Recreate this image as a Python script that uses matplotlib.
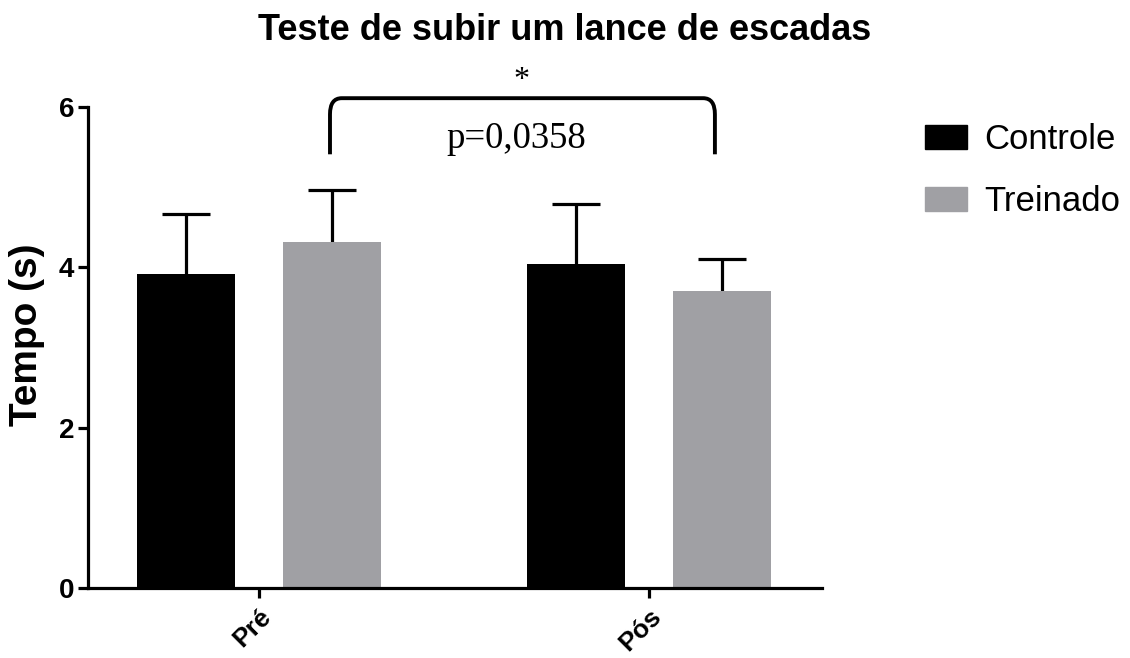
import matplotlib
matplotlib.use("Agg")
import matplotlib.pyplot as plt
import numpy as np
from matplotlib.path import Path
from matplotlib.patches import PathPatch, Patch

# ---- data ----
categories = ["Pré", "Pós"]
series_names = ["Controle", "Treinado"]
controle_mean = [3.92, 4.04]
controle_sd = [0.74, 0.75]
treinado_mean = [4.32, 3.70]
treinado_sd = [0.64, 0.40]
y_ticks = [0, 2, 4, 6]
title = "Teste de subir um lance de escadas"
ylabel = "Tempo (s)"
p_text = "p=0,0358"
star_text = "*"

# ---- style ----
plt.rcParams['font.family'] = ['Liberation Sans', 'DejaVu Sans']
black = "#000000"
gray = "#a0a0a4"

fig = plt.figure(figsize=(11.30, 6.58), dpi=100)
ax = fig.add_axes([88/1130, 1-588/658, (822-88)/1130, (588-107)/658])

x = np.arange(len(categories))
w = 0.25
off = 0.1875
lw = 2.3

ax.bar(x - off, controle_mean, width=w, color=black, zorder=2)
ax.bar(x + off, treinado_mean, width=w, color=gray, zorder=2)
for xs, m, sd in [(x - off, controle_mean, controle_sd), (x + off, treinado_mean, treinado_sd)]:
    eb = ax.errorbar(xs, m, yerr=[np.zeros(len(m)), sd], fmt='none',
                     ecolor=black, elinewidth=lw, capsize=17, capthick=lw, zorder=1)
    eb[1][0].set_visible(False)  # hide lower caps

ax.set_xlim(-0.4385, 1.4436)
ax.set_ylim(0, 6)
ax.set_yticks(y_ticks)
ax.set_yticklabels([str(t) for t in y_ticks], fontsize=20, fontweight='bold')
ax.set_xticks(x)
ax.set_xticklabels(categories, rotation=45, ha='right', rotation_mode='anchor',
                   fontsize=19, fontweight='bold')
for s in ['top', 'right']:
    ax.spines[s].set_visible(False)
for s in ['left', 'bottom']:
    ax.spines[s].set_linewidth(lw)
ax.tick_params(axis='both', width=lw, length=7, direction='out', pad=3)
ax.tick_params(axis='x', pad=5)
ax.set_ylabel(ylabel, fontsize=28, fontweight='bold')
ax.yaxis.set_label_coords(-43/734, (588-335)/481)

fig.text(565/1130, 1-30/658, title, ha='center', va='center',
         fontsize=26, fontweight='bold')

# bracket
x0, x1 = 0.182, 1.169
ytop, ybot = 6.11, 5.41
rx, ry = 0.03, 0.2
verts = [(x0, ybot), (x0, ytop - ry), (x0, ytop), (x0 + rx, ytop),
         (x1 - rx, ytop), (x1, ytop), (x1, ytop - ry), (x1, ybot)]
codes = [Path.MOVETO, Path.LINETO, Path.CURVE3, Path.CURVE3,
         Path.LINETO, Path.CURVE3, Path.CURVE3, Path.LINETO]
ax.add_patch(PathPatch(Path(verts, codes), fill=False, lw=2.8, color=black,
                       clip_on=False, capstyle='butt', joinstyle='round'))
ax.text(0.674, 6.33, star_text, ha='center', va='center', fontsize=23,
        family=['Liberation Serif'])
ax.text(0.659, 5.6, p_text, ha='center', va='center', fontsize=26.5,
        family=['Liberation Serif'])

handles = [Patch(color=black, label=series_names[0]),
           Patch(color=gray, label=series_names[1])]
fig.legend(handles=handles, loc='upper left', bbox_to_anchor=(911/1130, 1-109/658),
           frameon=False, fontsize=25, handlelength=1.2, handleheight=0.7,
           handletextpad=0.5, labelspacing=0.85, borderaxespad=0)

fig.savefig("out.png", dpi=100)
